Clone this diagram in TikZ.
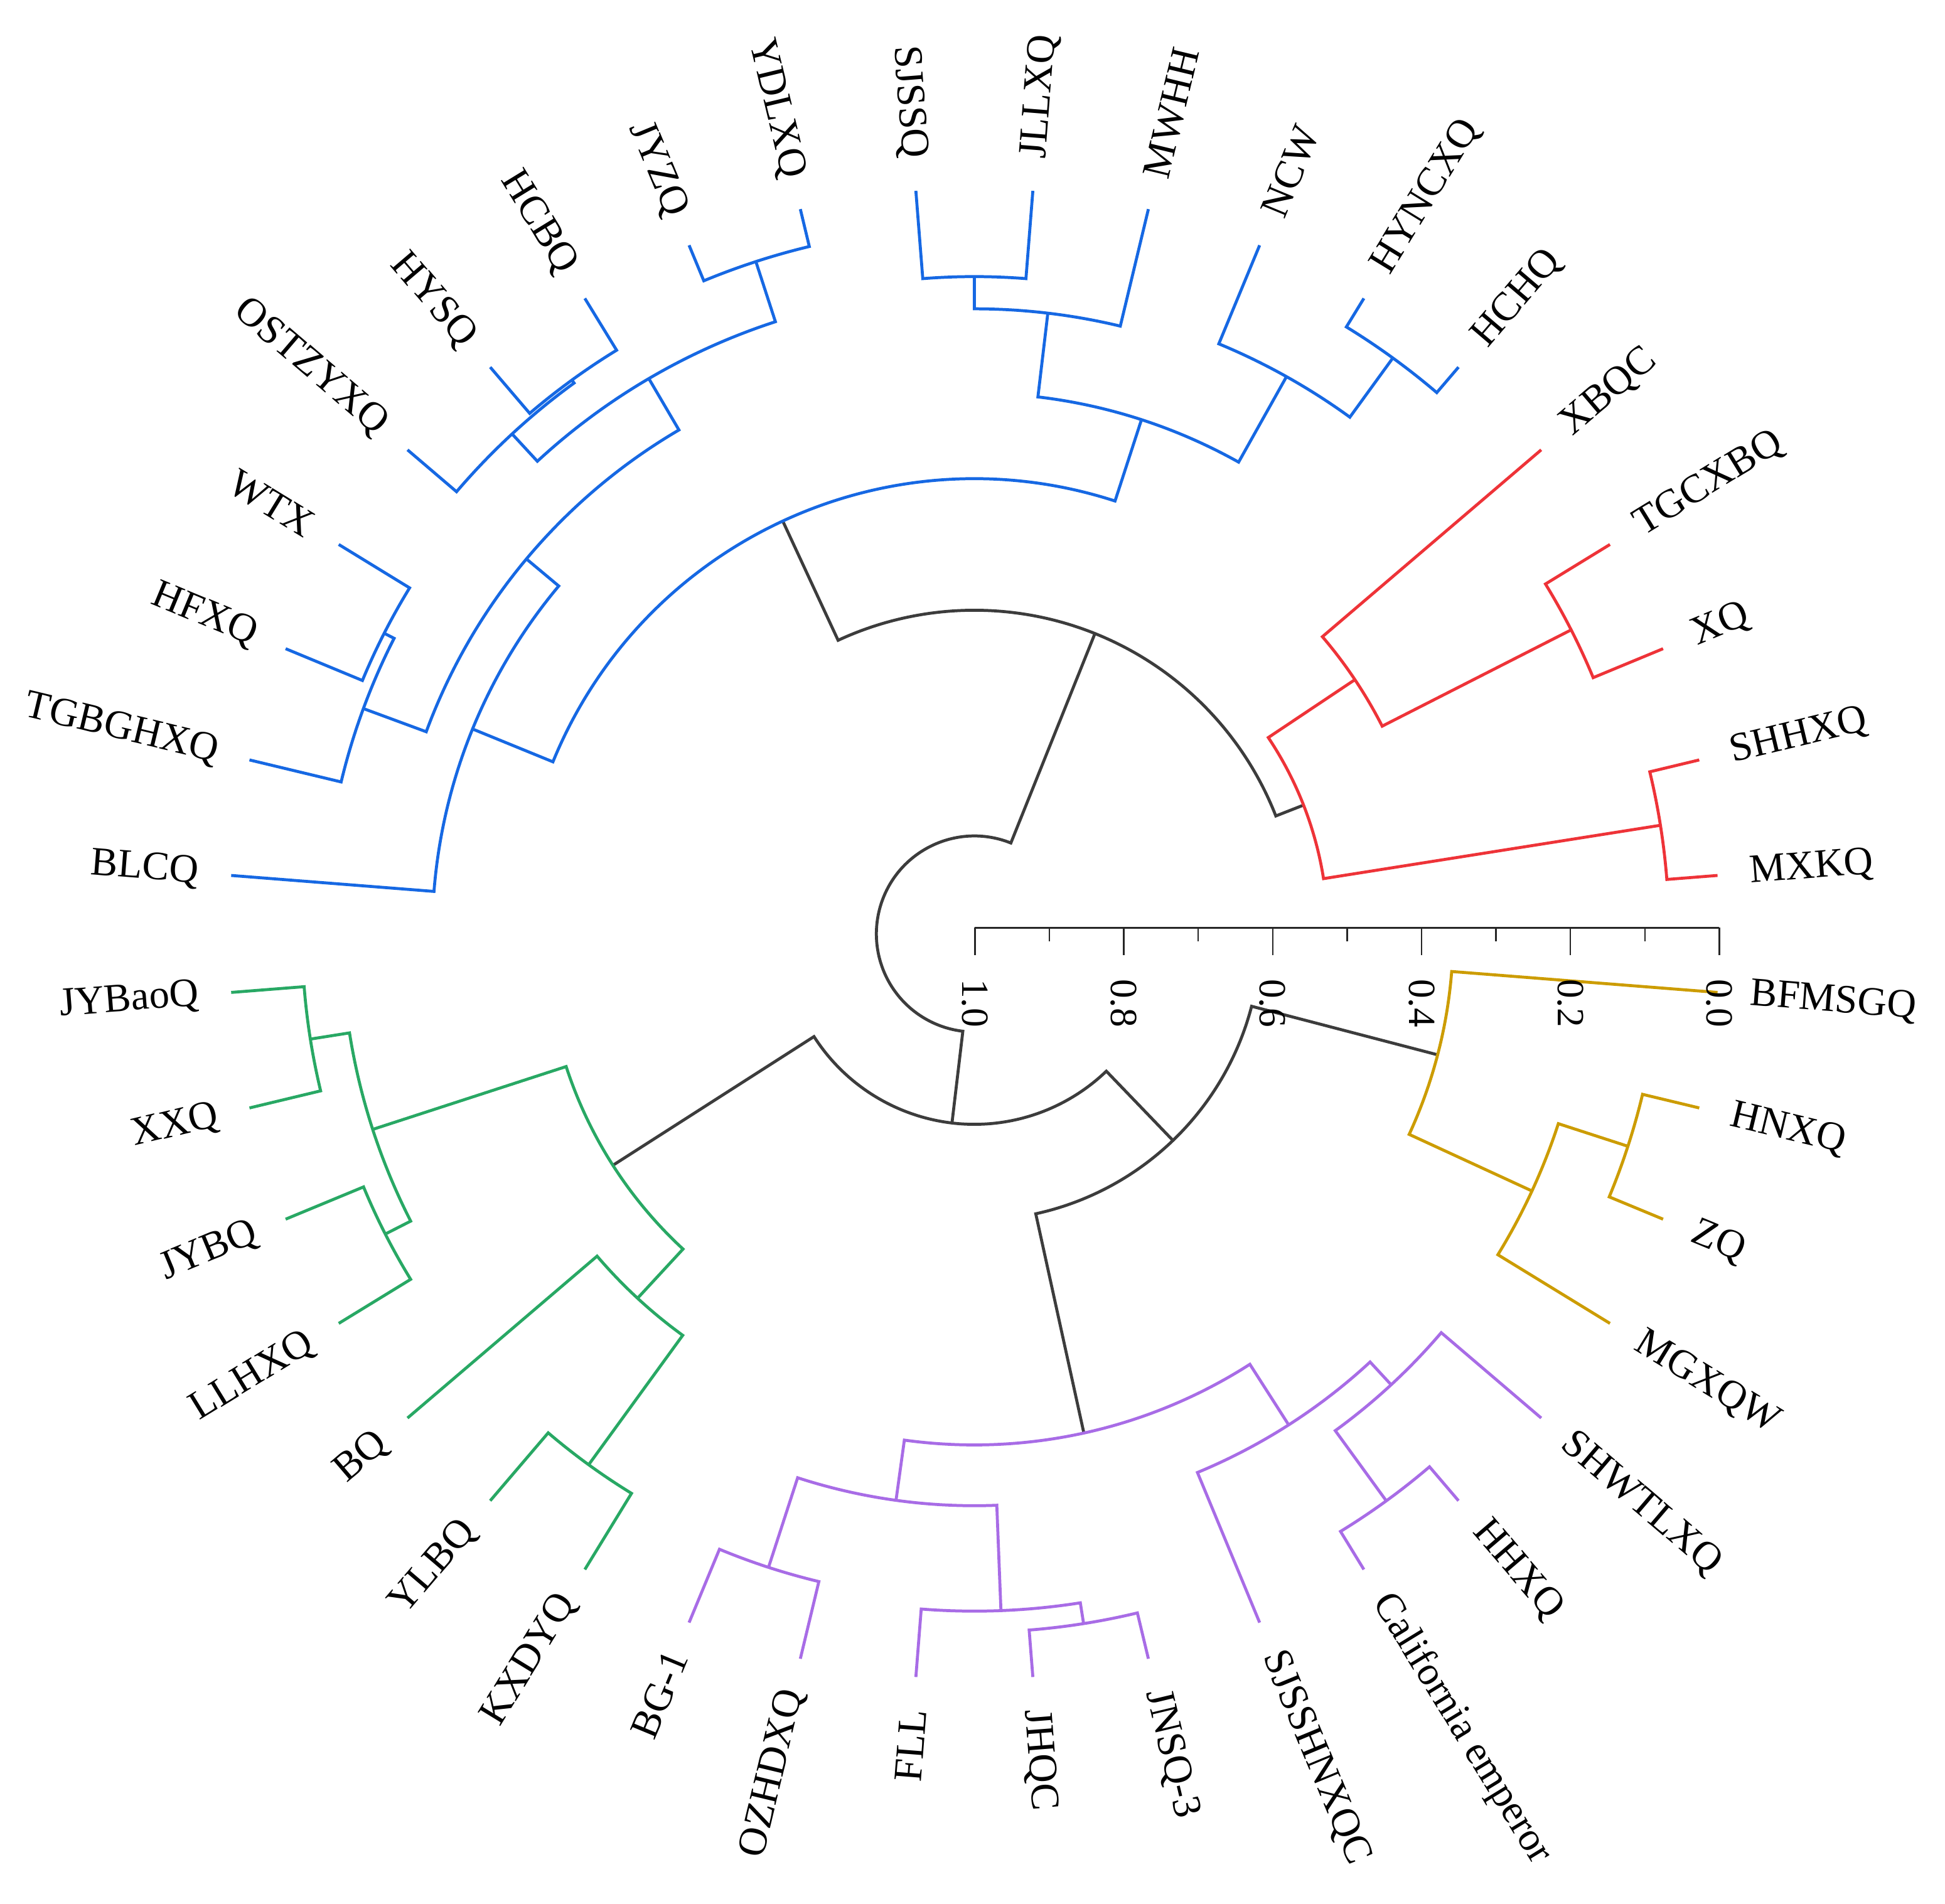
\documentclass[tikz,border=0pt]{standalone}
\usepackage{fontspec}
\setmainfont{Liberation Serif}
\definecolor{cblue}{HTML}{1668E3}
\definecolor{cred}{HTML}{EE3338}
\definecolor{cgold}{HTML}{CC9C00}
\definecolor{cpurple}{HTML}{A86CE6}
\definecolor{cgreen}{HTML}{28A864}
\definecolor{cgray}{HTML}{3C3C3C}
\newcommand{\clade}[6]{\draw[branch,#1] (#4) -- (#3:#2) arc[start angle=#3, end angle=#5, radius=#2] -- (#6);}
\tikzset{
  branch/.style={line width=1.2pt, line join=miter},
  lab/.style={font=\fontsize{16.3}{18}\selectfont, inner sep=0pt},
  axlab/.style={font=\fontsize{15.5}{17}\selectfont, inner sep=0pt},
  axisline/.style={line width=0.6pt, color=black!85}
}
\begin{document}
\begin{tikzpicture}[x=0.5pt, y=0.5pt]
\useasboundingbox (-785.5,-782) rectangle (782.5,753);
% leaf tips
\foreach \i in {0,...,39} \coordinate (l\i) at ({4.5+9*\i}:601);
% internal nodes
\coordinate (kV) at (9:560);
\coordinate (kS) at (27:540);
\coordinate (kT) at (33.75:369);
\coordinate (kU) at (21.375:285);
\coordinate (kQ) at (54:574);
\coordinate (kP) at (60.75:515);
\coordinate (kL) at (90:530);
\coordinate (kM) at (83.25:504);
\coordinate (kN) at (72:436);
\coordinate (kJY) at (108:570);
\coordinate (kA) at (126:552);
\coordinate (kB) at (132.75:549);
\coordinate (kD) at (120.375:519);
\coordinate (kH) at (153:534);
\coordinate (kG) at (159.75:525);
\coordinate (kE) at (140.0625:471);
\coordinate (kF) at (157.78125:437);
\coordinate (kRb) at (114.890625:367);
\coordinate (kX) at (68.1328125:261);
\coordinate (kGB) at (189:542);
\coordinate (kGC) at (207:533);
\coordinate (kGA) at (198:510);
\coordinate (kGE) at (234:529);
\coordinate (kGD) at (227.25:400);
\coordinate (kGR) at (212.625:346);
\coordinate (kPE) at (252:537);
\coordinate (kPG) at (279:563);
\coordinate (kPF) at (272.25:546);
\coordinate (kPA) at (262.125:461);
\coordinate (kPD) at (306:565);
\coordinate (kPC) at (312.75:495);
\coordinate (kPB) at (302.625:470);
\coordinate (kPR) at (282.375:412);
\coordinate (kYB) at (342:554);
\coordinate (kYA) at (335.25:495);
\coordinate (kYR) at (345.375:386);
\coordinate (kZ) at (313.875:231);
\coordinate (kY) at (263.25:153.5);
% gray backbone
\clade{cgray}{261}{21.375}{kU}{114.890625}{kRb}
\clade{cgray}{231}{282.375}{kPR}{345.375}{kYR}
\clade{cgray}{153.5}{212.625}{kGR}{313.875}{kZ}
\clade{cgray}{79}{68.1328125}{kX}{263.25}{kY}
% red
\clade{cred}{560}{4.5}{l0}{13.5}{l1}
\clade{cred}{540}{22.5}{l2}{31.5}{l3}
\clade{cred}{369}{27}{kS}{40.5}{l4}
\clade{cred}{285}{9}{kV}{33.75}{kT}
% blue
\clade{cblue}{574}{49.5}{l5}{58.5}{l6}
\clade{cblue}{515}{54}{kQ}{67.5}{l7}
\clade{cblue}{530}{85.5}{l9}{94.5}{l10}
\clade{cblue}{504}{76.5}{l8}{90}{kL}
\clade{cblue}{436}{60.75}{kP}{83.25}{kM}
\clade{cblue}{570}{103.5}{l11}{112.5}{l12}
\clade{cblue}{552}{121.5}{l13}{130.5}{l14}
\clade{cblue}{549}{126}{kA}{139.5}{l15}
\clade{cblue}{519}{108}{kJY}{132.75}{kB}
\clade{cblue}{534}{148.5}{l16}{157.5}{l17}
\clade{cblue}{525}{153}{kH}{166.5}{l18}
\clade{cblue}{471}{120.375}{kD}{159.75}{kG}
\clade{cblue}{437}{140.0625}{kE}{175.5}{l19}
\clade{cblue}{367}{72}{kN}{157.78125}{kF}
% green
\clade{cgreen}{542}{184.5}{l20}{193.5}{l21}
\clade{cgreen}{533}{202.5}{l22}{211.5}{l23}
\clade{cgreen}{510}{189}{kGB}{207}{kGC}
\clade{cgreen}{529}{229.5}{l25}{238.5}{l26}
\clade{cgreen}{400}{220.5}{l24}{234}{kGE}
\clade{cgreen}{346}{198}{kGA}{227.25}{kGD}
% purple
\clade{cpurple}{537}{247.5}{l27}{256.5}{l28}
\clade{cpurple}{563}{274.5}{l30}{283.5}{l31}
\clade{cpurple}{546}{265.5}{l29}{279}{kPG}
\clade{cpurple}{461}{252}{kPE}{272.25}{kPF}
\clade{cpurple}{565}{301.5}{l33}{310.5}{l34}
\clade{cpurple}{495}{306}{kPD}{319.5}{l35}
\clade{cpurple}{470}{292.5}{l32}{312.75}{kPC}
\clade{cpurple}{412}{262.125}{kPA}{302.625}{kPB}
% gold
\clade{cgold}{554}{337.5}{l37}{346.5}{l38}
\clade{cgold}{495}{328.5}{l36}{342}{kYB}
\clade{cgold}{386}{335.25}{kYA}{355.5}{l39}
% labels, right half
\foreach \i/\t in {0/MXKQ,1/SHHXQ,2/XQ,3/TGCXBQ,4/XBQC,5/HCHQ,6/HYNCXQ,7/NCW,8/MWHH,9/JLLXQ,
  30/JHQC,31/JNSQ-3,32/SJSSHNXQC,33/California emperor,34/HHXQ,35/SHWTLXQ,36/MGXQW,37/ZQ,38/HNXQ,39/BFMSGQ}{
  \pgfmathsetmacro\ang{4.5+9*\i}
  \node[lab, anchor=west, rotate=\ang] (n\i) at (\ang:627) {\t};
}
% labels, left half
\foreach \i/\t in {10/SJSSQ,11/YDLXQ,12/JYZQ,13/HCBQ,14/HYSQ,15/OSTZYXQ,16/WTX,17/HFXQ,18/TGBGHXQ,19/BLCQ,
  20/JYBaoQ,21/XXQ,22/JYBQ,23/LLHXQ,24/BQ,25/YLBQ,26/KXDYQ,27/BG-1,28/OZHDXQ,29/FLL}{
  \pgfmathsetmacro\ang{4.5+9*\i}
  \pgfmathsetmacro\rot{\ang-180}
  \node[lab, anchor=east, rotate=\rot] (n\i) at (\ang:627) {\t};
}
% scale axis
\coordinate (ax0) at (0.5,5);
\coordinate (ax10) at (600.5,5);
\draw[axisline] (ax0) -- (ax10);
\foreach \k in {0,...,10}{
  \ifodd\k
    \draw[axisline] ({0.5+60*\k},5) -- ++(0,-11);
  \else
    \draw[axisline] ({0.5+60*\k},5) -- ++(0,-22);
  \fi
}
\foreach \k/\t in {0/1.0,2/0.8,4/0.6,6/0.4,8/0.2,10/0.0}
  \node[axlab, anchor=west, rotate=-90] (axl\k) at ({0.5+60*\k},-36) {\t};
\end{tikzpicture}
\end{document}
